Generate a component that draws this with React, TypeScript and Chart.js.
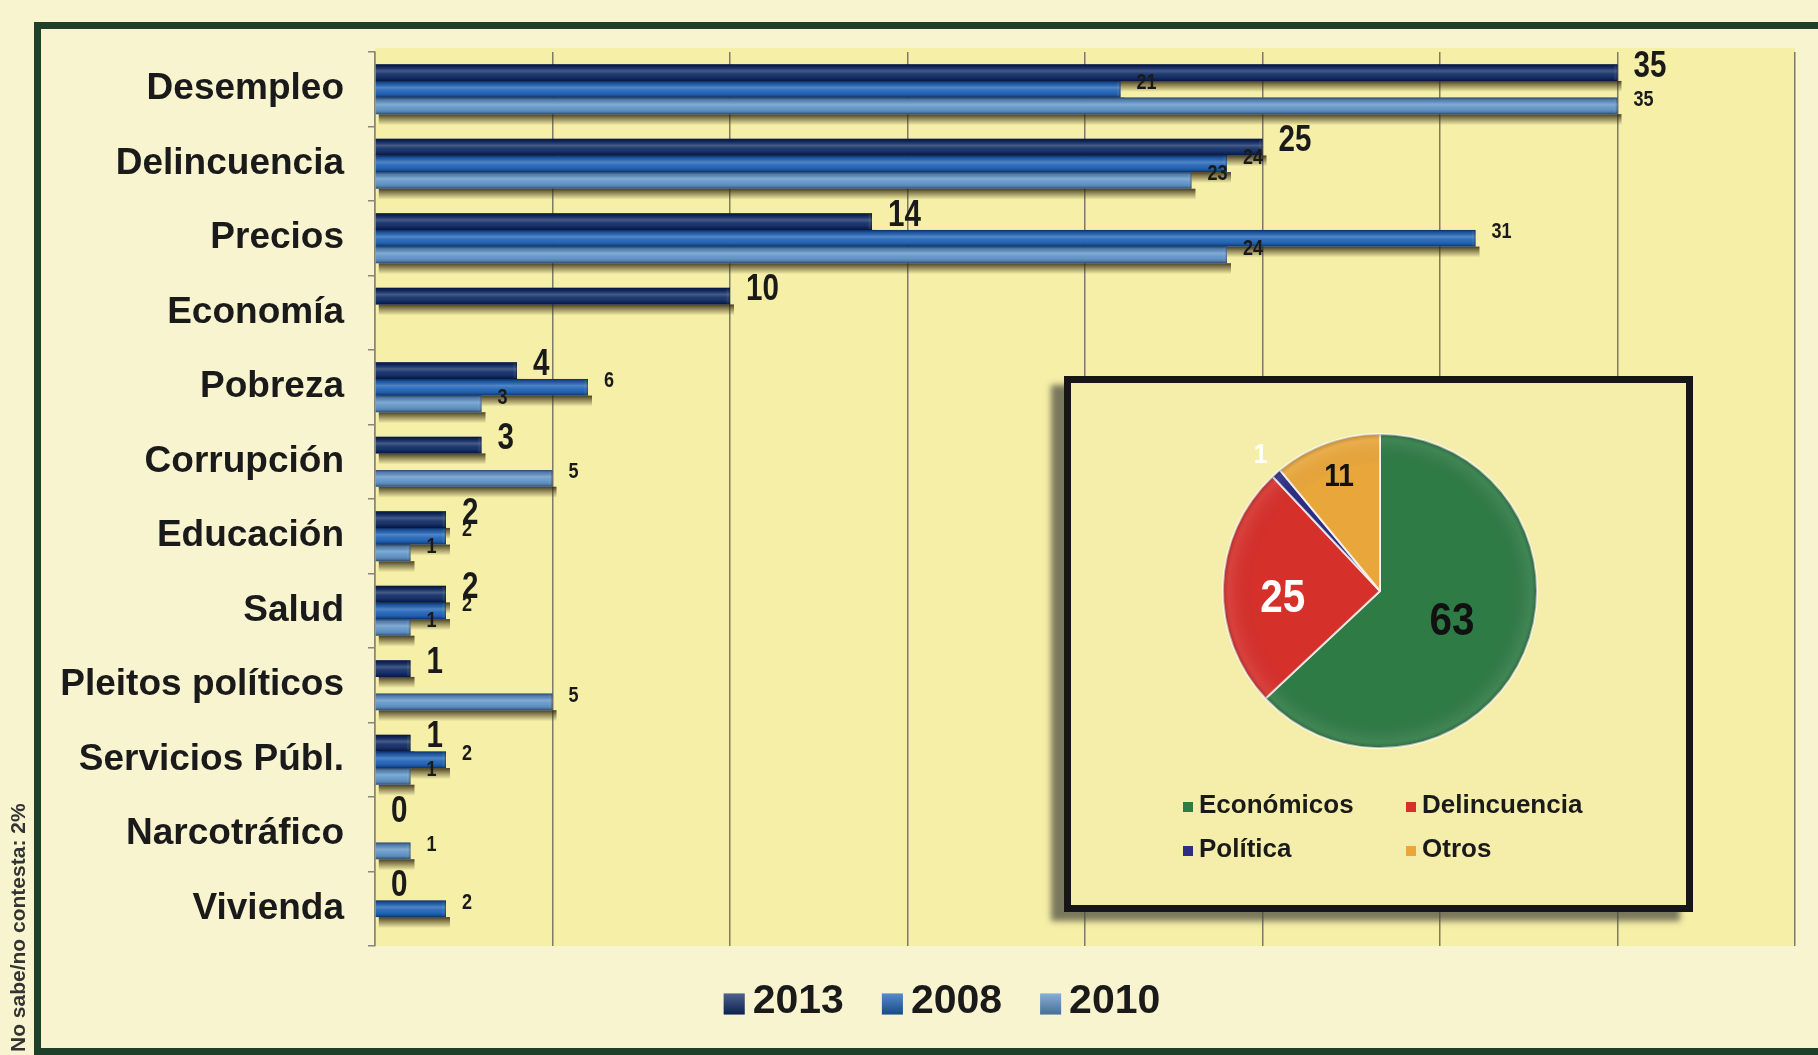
import React, { useEffect, useRef } from "react";
import { Chart, registerables } from "chart.js";

Chart.register(...registerables);

// ---------- data ----------
const categories = [
  "Desempleo",
  "Delincuencia",
  "Precios",
  "Economía",
  "Pobreza",
  "Corrupción",
  "Educación",
  "Salud",
  "Pleitos políticos",
  "Servicios Públ.",
  "Narcotráfico",
  "Vivienda",
];
const seriesNames = ["2013", "2008", "2010"];
const values2013 = [35, 25, 14, 10, 4, 3, 2, 2, 1, 1, 0, 0];
const values2008 = [21, 24, 31, null, 6, null, 2, 2, null, 2, null, 2];
const values2010 = [35, 23, 24, null, 3, 5, 1, 1, 5, 1, 1, null];
const seriesColors = ["#102c66", "#1f63b7", "#5f94c7"];
const xMin = 0;
const xMax = 40;
const xStep = 5;

const pieLabels = ["Económicos", "Delincuencia", "Política", "Otros"];
const pieValues = [63, 25, 1, 11];
const pieColors = ["#2f7b45", "#d6302b", "#2b2e82", "#e8a63b"];

const footnote = "No sabe/no contesta: 2%";

// ---------- styles ----------
const FONT = "'Liberation Sans', Arial, Helvetica, sans-serif";
const PAGE_BG = "#f7f4cf";
const PLOT_BG = "#f6efa8";
const INSET_BG = "#f4eeaa";
const TEXT = "#1a1a1a";

function drawCondensed(ctx: CanvasRenderingContext2D, text: string, x: number, y: number, sx: number) {
  ctx.save();
  ctx.translate(x, y);
  ctx.scale(sx, 1);
  ctx.fillText(text, 0, 0);
  ctx.restore();
}

const barFx = {
  id: "barFx",
  beforeDraw(chart: any) {
    const { ctx, chartArea } = chart;
    ctx.save();
    ctx.fillStyle = PLOT_BG;
    ctx.fillRect(chartArea.left, chartArea.top - 4, chartArea.right - chartArea.left, chartArea.bottom - chartArea.top + 4);
    ctx.restore();
  },
  beforeDatasetsDraw(chart: any) {
    const ctx = chart.ctx as CanvasRenderingContext2D;
    ctx.save();
    chart.data.datasets.forEach((ds: any, di: number) => {
      const meta = chart.getDatasetMeta(di);
      meta.data.forEach((bar: any, i: number) => {
        const v = ds.data[i];
        if (v === null || v === undefined || v === 0) return;
        const p = bar.getProps(["x", "y", "base", "height"], true);
        const bottom = p.y + p.height / 2;
        const left = Math.min(p.x, p.base);
        const right = Math.max(p.x, p.base);
        const g = ctx.createLinearGradient(0, bottom, 0, bottom + 11);
        g.addColorStop(0, "rgba(40,32,10,0.85)");
        g.addColorStop(0.5, "rgba(60,50,20,0.45)");
        g.addColorStop(1, "rgba(60,50,20,0)");
        ctx.fillStyle = g;
        ctx.fillRect(left + 3, bottom, right - left + 1, 11);
      });
    });
    ctx.restore();
  },
  afterDatasetsDraw(chart: any) {
    const ctx = chart.ctx as CanvasRenderingContext2D;
    ctx.save();
    // 3D shading of every bar
    chart.data.datasets.forEach((ds: any, di: number) => {
      const meta = chart.getDatasetMeta(di);
      meta.data.forEach((bar: any, i: number) => {
        const v = ds.data[i];
        if (v === null || v === undefined || v === 0) return;
        const p = bar.getProps(["x", "y", "base", "height"], true);
        const top = p.y - p.height / 2;
        const left = Math.min(p.x, p.base);
        const right = Math.max(p.x, p.base);
        const g = ctx.createLinearGradient(0, top, 0, top + p.height);
        g.addColorStop(0, "rgba(0,0,20,0.55)");
        g.addColorStop(0.14, "rgba(0,0,20,0.15)");
        g.addColorStop(0.4, "rgba(255,255,255,0.22)");
        g.addColorStop(0.6, "rgba(255,255,255,0.06)");
        g.addColorStop(0.85, "rgba(0,0,20,0.12)");
        g.addColorStop(1, "rgba(0,0,20,0.5)");
        ctx.fillStyle = g;
        ctx.fillRect(left, top, right - left, p.height);
        // end cap
        const cg = ctx.createLinearGradient(right - 4, 0, right, 0);
        cg.addColorStop(0, "rgba(255,255,255,0)");
        cg.addColorStop(1, "rgba(0,0,0,0.35)");
        ctx.fillStyle = cg;
        ctx.fillRect(right - 4, top + 1, 4, p.height - 2);
      });
    });
    // value labels
    ctx.fillStyle = TEXT;
    ctx.textAlign = "left";
    ctx.textBaseline = "middle";
    chart.data.datasets.forEach((ds: any, di: number) => {
      const meta = chart.getDatasetMeta(di);
      meta.data.forEach((bar: any, i: number) => {
        const v = ds.data[i];
        if (v === null || v === undefined) return;
        const p = bar.getProps(["x", "y"], true);
        if (di === 0) {
          ctx.font = `bold 37px ${FONT}`;
          drawCondensed(ctx, String(v), p.x + 16, p.y - 6, 0.8);
        } else {
          ctx.font = `bold 22px ${FONT}`;
          drawCondensed(ctx, String(v), p.x + 16, p.y - 6, 0.82);
        }
      });
    });
    ctx.restore();
  },
  afterDraw(chart: any) {
    const ctx = chart.ctx as CanvasRenderingContext2D;
    ctx.save();
    // legend
    ctx.font = `bold 41px ${FONT}`;
    ctx.textBaseline = "middle";
    ctx.textAlign = "left";
    const box = 21;
    const gap = 8;
    const spacing = 38;
    const widths = chart.data.datasets.map((d: any) => box + gap + ctx.measureText(d.label).width);
    const total = widths.reduce((a: number, b: number) => a + b, 0) + spacing * (widths.length - 1);
    let x = 942 - total / 2;
    const y = 1002;
    chart.data.datasets.forEach((d: any, i: number) => {
      ctx.fillStyle = d.backgroundColor;
      ctx.fillRect(x, y - box / 2 + 2, box, box);
      const g = ctx.createLinearGradient(0, y - box / 2 + 2, 0, y + box / 2 + 2);
      g.addColorStop(0, "rgba(255,255,255,0.25)");
      g.addColorStop(1, "rgba(0,0,0,0.25)");
      ctx.fillStyle = g;
      ctx.fillRect(x, y - box / 2 + 2, box, box);
      ctx.fillStyle = TEXT;
      ctx.fillText(d.label, x + box + gap, y);
      x += widths[i] + spacing;
    });
    // footnote (rotated)
    ctx.font = `bold 21px ${FONT}`;
    ctx.fillStyle = "#333333";
    ctx.translate(19, 1052);
    ctx.rotate(-Math.PI / 2);
    ctx.textAlign = "left";
    ctx.textBaseline = "middle";
    ctx.fillText(footnote, 0, 0);
    ctx.restore();
  },
};

const labelRadius = [0.5, 0.62, 1.15, 0.77];
const labelShiftY = [0, 11, 0, 0];
const labelColors = ["#111111", "#ffffff", "#ffffff", "#111111"];
const labelSizes = [46, 46, 28, 32];

const pieFx = {
  id: "pieFx",
  afterDatasetsDraw(chart: any) {
    const ctx = chart.ctx as CanvasRenderingContext2D;
    const meta = chart.getDatasetMeta(0);
    ctx.save();
    const a0 = meta.data[0];
    if (a0) {
      const cx = a0.x;
      const cy = a0.y;
      const r = a0.outerRadius;
      const g = ctx.createRadialGradient(cx, cy, r * 0.8, cx, cy, r);
      g.addColorStop(0, "rgba(0,0,0,0)");
      g.addColorStop(0.8, "rgba(255,255,255,0.08)");
      g.addColorStop(1, "rgba(0,0,0,0.22)");
      ctx.fillStyle = g;
      ctx.beginPath();
      ctx.arc(cx, cy, r, 0, Math.PI * 2);
      ctx.fill();
    }
    ctx.textAlign = "center";
    ctx.textBaseline = "middle";
    meta.data.forEach((arc: any, i: number) => {
      const p = arc.getProps(["x", "y", "startAngle", "endAngle", "outerRadius"], true);
      const mid = (p.startAngle + p.endAngle) / 2;
      const rr = p.outerRadius * labelRadius[i];
      const lx = p.x + Math.cos(mid) * rr;
      const ly = p.y + Math.sin(mid) * rr + labelShiftY[i];
      ctx.font = `bold ${labelSizes[i]}px ${FONT}`;
      ctx.fillStyle = labelColors[i];
      drawCondensed(ctx, String(chart.data.datasets[0].data[i]), lx, ly, 0.88);
    });
    ctx.restore();
  },
  afterDraw(chart: any) {
    const ctx = chart.ctx as CanvasRenderingContext2D;
    ctx.save();
    ctx.font = `bold 26px ${FONT}`;
    ctx.textAlign = "left";
    ctx.textBaseline = "middle";
    const cols = [112, 335];
    const rows = [423, 467];
    chart.data.labels.forEach((lab: string, i: number) => {
      const x = cols[i % 2];
      const y = rows[Math.floor(i / 2)];
      ctx.fillStyle = chart.data.datasets[0].backgroundColor[i];
      ctx.fillRect(x, y - 4, 10, 10);
      ctx.fillStyle = TEXT;
      ctx.fillText(lab, x + 16, y);
    });
    ctx.restore();
  },
};

export default function App() {
  const barRef = useRef<HTMLCanvasElement | null>(null);
  const pieRef = useRef<HTMLCanvasElement | null>(null);

  useEffect(() => {
    if (!barRef.current || !pieRef.current) return;
    const bar = new Chart(barRef.current, {
      type: "bar",
      data: {
        labels: categories,
        datasets: [
          { label: seriesNames[0], data: values2013, backgroundColor: seriesColors[0] },
          { label: seriesNames[1], data: values2008, backgroundColor: seriesColors[1] },
          { label: seriesNames[2], data: values2010, backgroundColor: seriesColors[2] },
        ] as any,
      },
      options: {
        indexAxis: "y",
        responsive: false,
        animation: false,
        devicePixelRatio: 1,
        datasets: { bar: { categoryPercentage: 0.67, barPercentage: 1.0, borderWidth: 0 } },
        layout: { padding: { left: 0, top: 52, right: 23, bottom: 109 } },
        plugins: { legend: { display: false }, tooltip: { enabled: false } },
        scales: {
          x: {
            type: "linear",
            min: xMin,
            max: xMax,
            ticks: { display: false, stepSize: xStep },
            grid: { color: "#7d7a66", lineWidth: 1.5, drawTicks: false },
            border: { display: false },
          },
          y: {
            type: "category",
            afterFit: (scale: any) => {
              scale.width = 375;
            },
            ticks: {
              color: TEXT,
              padding: 24,
              autoSkip: false,
              font: { family: FONT, size: 37, weight: "bold" },
            },
            grid: { drawOnChartArea: false, drawTicks: true, tickLength: 7, color: "#8a877a", lineWidth: 1.5 },
            border: { display: true, color: "#8a877a", width: 1.5 },
          },
        },
      } as any,
      plugins: [barFx],
    });

    const pie = new Chart(pieRef.current, {
      type: "pie",
      data: {
        labels: pieLabels,
        datasets: [
          {
            data: pieValues,
            backgroundColor: pieColors,
            borderColor: "rgba(255,255,255,0.75)",
            borderWidth: 2,
          },
        ],
      },
      options: {
        responsive: false,
        animation: false,
        devicePixelRatio: 1,
        layout: { padding: { left: 151, right: 148, top: 50, bottom: 156 } },
        plugins: { legend: { display: false }, tooltip: { enabled: false } },
      } as any,
      plugins: [pieFx],
    });

    return () => {
      bar.destroy();
      pie.destroy();
    };
  }, []);

  return (
    <div
      style={{
        position: "fixed",
        left: 0,
        top: 0,
        width: 1818,
        height: 1055,
        overflow: "hidden",
        background: PAGE_BG,
      }}
    >
      <div
        style={{
          position: "absolute",
          left: 34,
          top: 22,
          width: 1830,
          height: 1033,
          boxSizing: "border-box",
          border: "7px solid #1e402b",
        }}
      />
      <canvas
        ref={barRef}
        width={1818}
        height={1055}
        style={{ position: "absolute", left: 0, top: 0, width: 1818, height: 1055, display: "block" }}
      />
      <div
        style={{
          position: "absolute",
          left: 1064,
          top: 376,
          width: 629,
          height: 536,
          boxSizing: "border-box",
          border: "7px solid #161616",
          background: INSET_BG,
          boxShadow: "-13px 9px 6px rgba(70,70,60,0.7)",
        }}
      >
        <canvas
          ref={pieRef}
          width={615}
          height={522}
          style={{ position: "absolute", left: 0, top: 0, width: 615, height: 522, display: "block" }}
        />
      </div>
    </div>
  );
}
